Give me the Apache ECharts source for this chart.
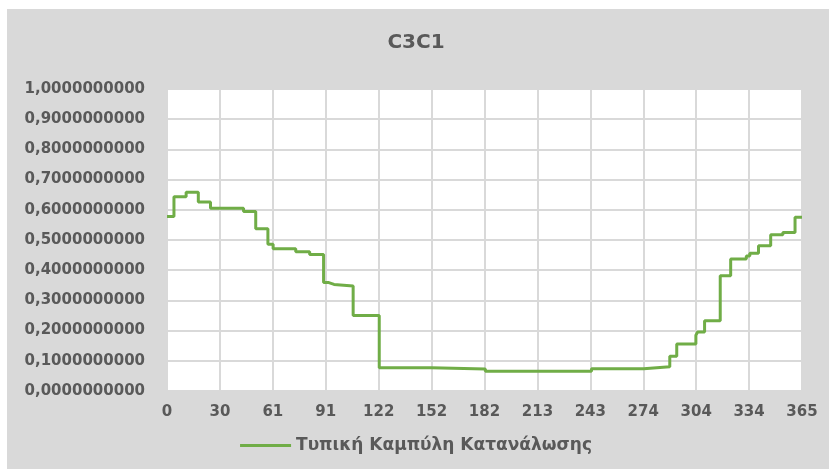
<!DOCTYPE html>
<html>
<head>
<meta charset="utf-8">
<script src="https://cdn.jsdelivr.net/npm/echarts@6/dist/echarts.min.js"></script>
<style>
    html, body { margin: 0; padding: 0; background: #ffffff; }
    #bg { position: absolute; left: 7px; top: 9px; width: 822px; height: 460px; background: #d9d9d9; }
    #chart { position: absolute; left: 0; top: 0; width: 832px; height: 469px; }
</style>
</head>
<body>
<div id="bg"></div>
<div id="chart"></div>
<script>
// Step curve: day where each level starts, and the level value
const stepDays = [0, 4, 11, 18, 25, 44, 51, 58, 61, 74, 82, 90, 93, 96, 107, 122, 152, 183, 244, 274, 289, 293, 304, 305, 309, 318, 324, 333, 335, 340, 347, 354, 361, 365];
const stepValues = [0.578, 0.643, 0.658, 0.626, 0.605, 0.594, 0.537, 0.486, 0.471, 0.461, 0.452, 0.359, 0.353, 0.348, 0.250, 0.077, 0.073, 0.065, 0.074, 0.080, 0.115, 0.156, 0.185, 0.195, 0.233, 0.382, 0.437, 0.447, 0.456, 0.481, 0.517, 0.525, 0.575, 0.575];
const xTickLabels = ['0', '30', '61', '91', '122', '152', '182', '213', '243', '274', '304', '334', '365'];
const seriesName = 'Τυπική Καμπύλη Κατανάλωσης';
const chartTitle = 'C3C1';

const textColor = '#595959';
const xStep = 365 / 12;

const chart = echarts.init(document.getElementById('chart'));

chart.setOption({
    backgroundColor: 'transparent',
    animation: false,
    title: {
        text: chartTitle,
        left: 'center',
        top: 28,
        textStyle: { fontFamily: 'DejaVu Sans', fontSize: 20, fontWeight: 'bold', color: textColor }
    },
    grid: {
        left: 167, right: 30, top: 89, bottom: 78,
        show: true, backgroundColor: '#ffffff', borderWidth: 0
    },
    legend: {
        bottom: 10,
        left: 'center',
        icon: 'rect',
        itemWidth: 51,
        itemHeight: 3,
        itemGap: 5,
        textStyle: { fontFamily: 'DejaVu Sans', fontSize: 17, fontWeight: 'bold', color: textColor }
    },
    xAxis: {
        type: 'value',
        min: 0,
        max: 365,
        interval: xStep,
        axisLine: { show: false },
        axisTick: { show: false },
        splitLine: { show: true, lineStyle: { color: '#d9d9d9', width: 2 } },
        axisLabel: {
            margin: 14,
            fontFamily: 'DejaVu Sans', fontSize: 15, fontWeight: 'bold', color: textColor,
            formatter: v => xTickLabels[Math.round(v / xStep)]
        }
    },
    yAxis: {
        type: 'value',
        min: 0,
        max: 1,
        interval: 0.1,
        axisLine: { show: false },
        axisTick: { show: false },
        splitLine: { show: true, lineStyle: { color: '#d9d9d9', width: 2 } },
        axisLabel: {
            margin: 22,
            fontFamily: 'DejaVu Sans', fontSize: 15, fontWeight: 'bold', color: textColor,
            formatter: v => v.toFixed(10).replace('.', ',')
        }
    },
    series: [{
        name: seriesName,
        type: 'line',
        step: 'end',
        symbol: 'none',
        data: stepDays.map((d, i) => [d, stepValues[i]]),
        itemStyle: { color: '#70ad47' },
        lineStyle: { color: '#70ad47', width: 3 }
    }]
});
</script>
</body>
</html>
